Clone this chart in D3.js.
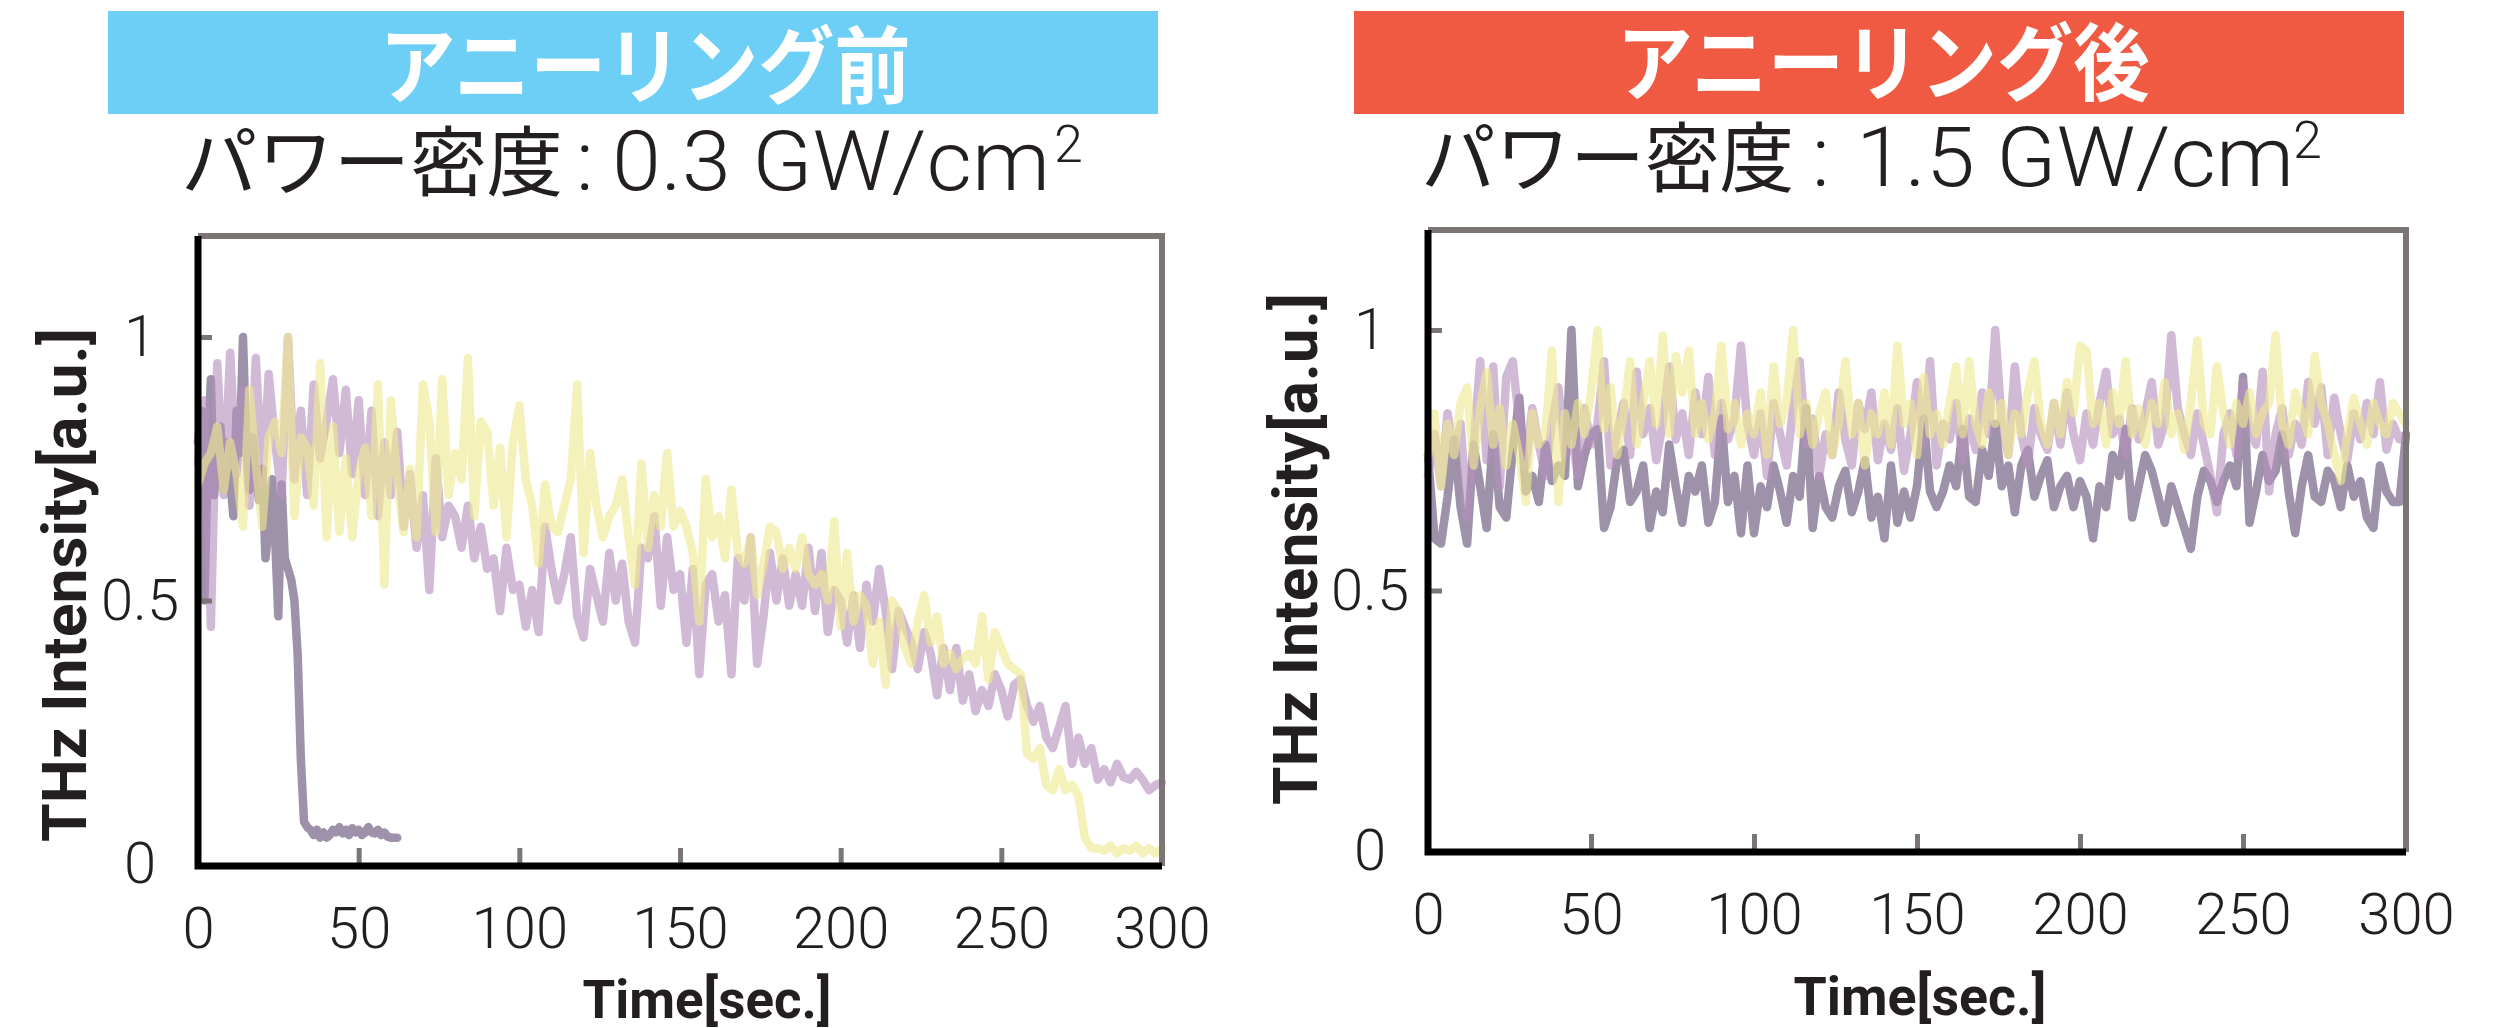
<!DOCTYPE html>
<html>
<head>
<meta charset="utf-8">
<script src="https://cdn.jsdelivr.net/npm/d3@7"></script>
<style>
  html, body { margin: 0; padding: 0; background: #fff; }
  svg { display: block; }
</style>
</head>
<body>
<svg id="chart" width="2519" height="1028"></svg>
<script>
// sampling of the traces (seconds)
var STEP = 2;
var DARK_BEFORE_STEP = 1;

var timeTicks = [0, 50, 100, 150, 200, 250, 300];
var intensityTicks = [0, 0.5, 1];

var bannerTitles = ["アニーリング前", "アニーリング後"];
var powerLabels = ["0.3 GW/cm", "1.5 GW/cm"];

// before annealing, 0.3 GW/cm2
var darkBefore = [
  .80,.86,.50,.76,.92,.70,.79,.83,.71,.80,
  .73,.66,.86,.78,1.0,.80,.71,.81,.74,.69,
  .75,.58,.64,.73,.62,.47,.72,.58,.56,.54,
  .50,.40,.20,.08,.07,.065,.055,.065,.05,.06,
  .05,.055,.065,.06,.07,.058,.065,.055,.068,.06,
  .065,.055,.06,.07,.06,.058,.065,.055,.06,.052,
  .05,.05,.05
];
var purpleBefore = [
  .76,.88,.45,.95,.70,.97,.74,.90,.68,.96,
  .72,.93,.80,.70,1.0,.73,.86,.70,.91,.77,
  .84,.92,.78,.90,.74,.88,.70,.86,.66,.80,
  .70,.82,.64,.74,.60,.70,.52,.77,.62,.68,
  .66,.60,.68,.58,.64,.56,.58,.48,.60,.52,
  .53,.45,.52,.44,.64,.56,.50,.55,.62,.47,
  .43,.56,.51,.46,.59,.50,.57,.46,.42,.60,
  .58,.66,.49,.62,.52,.55,.42,.56,.36,.53,
  .55,.46,.51,.36,.58,.50,.62,.38,.47,.59,
  .50,.58,.49,.55,.49,.60,.48,.59,.44,.52,
  .50,.42,.51,.41,.53,.46,.56,.48,.37,.48,
  .45,.42,.37,.44,.40,.32,.41,.33,.41,.31,
  .36,.29,.33,.30,.36,.33,.28,.34,.35,.30,
  .27,.30,.24,.22,.26,.30,.19,.24,.19,.22,
  .16,.18,.155,.19,.165,.16,.175,.16,.14,.15,.155
];
var yellowBefore = [
  .72,.76,.78,.83,.71,.80,.74,.64,.90,.76,
  .64,.81,.84,.78,1.0,.66,.81,.79,.68,.95,
  .62,.83,.63,.77,.62,.74,.79,.66,.91,.53,
  .88,.73,.63,.75,.62,.91,.84,.63,.92,.70,
  .78,.73,.96,.66,.84,.82,.68,.79,.62,.80,
  .87,.73,.68,.57,.72,.64,.63,.68,.73,.91,
  .59,.78,.68,.62,.66,.68,.73,.62,.53,.76,
  .60,.70,.64,.78,.64,.67,.64,.59,.46,.73,
  .62,.66,.58,.71,.59,.57,.62,.51,.57,.64,
  .63,.56,.60,.56,.62,.55,.53,.55,.50,.65,
  .45,.59,.46,.51,.49,.38,.46,.34,.50,.48,
  .41,.38,.46,.51,.42,.47,.38,.40,.37,.39,
  .40,.38,.47,.35,.44,.41,.38,.37,.36,.21,
  .20,.22,.15,.14,.18,.14,.15,.13,.05,.03,
  .03,.025,.035,.02,.03,.025,.035,.02,.03,.02,.03
];

// after annealing, 1.5 GW/cm2
var darkAfter = [
  .76,.60,.59,.68,.79,.66,.59,.78,.70,.62,
  .80,.66,.64,.77,.87,.69,.72,.67,.78,.71,
  .74,.72,1.0,.70,.76,.80,.81,.62,.66,.75,
  .77,.67,.69,.74,.62,.69,.65,.78,.70,.63,
  .72,.69,.74,.63,.67,.83,.67,.72,.61,.74,
  .61,.70,.66,.74,.69,.63,.72,.68,.85,.62,
  .72,.66,.64,.70,.73,.65,.69,.75,.64,.68,
  .60,.74,.63,.69,.64,.70,.83,.69,.66,.69,
  .74,.70,.81,.68,.67,.77,.72,.82,.70,.74,
  .65,.74,.77,.68,.72,.75,.66,.70,.72,.66,
  .71,.68,.60,.70,.66,.76,.72,.81,.64,.70,
  .76,.73,.68,.63,.70,.66,.62,.58,.68,.73,
  .71,.67,.71,.74,.70,.91,.63,.69,.76,.71,
  .73,.80,.69,.61,.70,.76,.68,.67,.73,.71,
  .66,.74,.68,.71,.64,.62,.74,.69,.67,.67,.80
];
var purpleAfter = [
  .72,.80,.70,.84,.76,.82,.64,.78,.94,.75,
  .93,.70,.91,.94,.82,.74,.85,.78,.72,.82,
  .89,.76,.80,.72,.85,.78,.82,.94,.74,.80,
  .86,.76,.92,.80,.85,.75,.82,.93,.79,.84,
  .76,.88,.80,.91,.76,.86,.79,.83,.97,.82,
  .76,.84,.72,.86,.80,.74,.85,.94,.78,.83,
  .72,.80,.76,.88,.79,.74,.86,.81,.88,.75,
  .82,.77,.85,.73,.80,.90,.78,.94,.74,.82,
  .79,.86,.75,.83,.77,.88,.80,1.0,.82,.76,
  .93,.80,.74,.85,.80,.77,.86,.78,.88,.80,
  .75,.84,.78,.86,.92,.80,.83,.76,.85,.79,
  .84,.90,.78,.82,.99,.85,.80,.76,.84,.78,
  .72,.65,.80,.84,.76,.90,.81,.78,.92,.69,
  .80,.85,.76,.82,.78,.90,.82,.89,.76,.87,
  .80,.75,.84,.79,.86,.80,.90,.77,.82,.79,.80
];
var yellowAfter = [
  .76,.84,.70,.82,.76,.86,.89,.74,.85,.92,
  .78,.85,.74,.82,.76,.67,.84,.78,.80,.96,
  .67,.84,.78,.86,.80,.88,1.0,.81,.89,.76,
  .84,.94,.78,.86,.94,.82,.99,.80,.95,.88,
  .96,.80,.86,.79,.84,.97,.81,.86,.78,.84,
  .80,.88,.76,.93,.82,.86,1.0,.80,.86,.78,
  .84,.88,.76,.82,.94,.80,.86,.74,.84,.80,
  .88,.78,.97,.82,.86,.76,.91,.80,.84,.78,
  .86,.93,.80,.94,.82,.78,.88,.82,.86,.76,
  .84,.80,.88,.94,.82,.78,.86,.80,.90,.84,
  .97,.96,.82,.86,.78,.88,.82,.94,.80,.85,
  .78,.86,.82,.90,.80,.84,.77,.86,.98,.82,
  .80,.93,.84,.78,.86,.82,.88,.80,.84,.86,
  .99,.82,.78,.88,.84,.80,.95,.86,.82,.76,
  .71,.80,.87,.82,.78,.86,.82,.80,.86,.84,.82
];

var DARK = { stroke: "#877a96", opacity: 0.82 };
var PURPLE = { stroke: "#b58fbd", opacity: 0.62 };
var YELLOW = { stroke: "#efe98f", opacity: 0.62 };
var TEXT_COLOR = "#231f20";
var FRAME_GRAY = "#7b7673";
var LIGHT_FONT = "'Roboto Light', 'Lato Light', Roboto, sans-serif";

function toPoints(values, step) {
  return values.map(function (v, i) { return { t: i * step, v: v }; });
}

var panels = [
  {
    banner: { x: 108, w: 1050, color: "#6dcff6", title: bannerTitles[0], cx: 645, base: 97, len: 531 },
    power: { x: 181, base: 190, jpLen: 382, colonX: 576, numX: 612, numLen: 438, label: powerLabels[0], supX: 1054, supBase: 162 },
    left: 198, right: 1162, top: 236, bottom: 866, zeroY: 864, oneY: 337,
    yTitle: { x: 86, cy: 585, len: 514 },
    xTitle: { cx: 707, base: 1018, len: 249 },
    series: [
      { points: toPoints(darkBefore, DARK_BEFORE_STEP), style: DARK },
      { points: toPoints(purpleBefore, STEP), style: PURPLE },
      { points: toPoints(yellowBefore, STEP), style: YELLOW }
    ]
  },
  {
    banner: { x: 1354, w: 1050, color: "#f15a42", title: bannerTitles[1], cx: 1883, base: 94, len: 533 },
    power: { x: 1421, base: 186, jpLen: 373, colonX: 1812, numX: 1856, numLen: 438, label: powerLabels[1], supX: 2293, supBase: 158 },
    left: 1428, right: 2406, top: 230, bottom: 852, zeroY: 851, oneY: 330,
    yTitle: { x: 1317, cy: 549, len: 512 },
    xTitle: { cx: 1920, base: 1015, len: 253 },
    series: [
      { points: toPoints(darkAfter, STEP), style: DARK },
      { points: toPoints(purpleAfter, STEP), style: PURPLE },
      { points: toPoints(yellowAfter, STEP), style: YELLOW }
    ]
  }
];

var svg = d3.select("#chart");

function drawPanel(p) {
  var g = svg.append("g");
  var x = d3.scaleLinear().domain([0, 300]).range([p.left, p.right]);
  var y = d3.scaleLinear().domain([0, 1]).range([p.zeroY, p.oneY]);

  // title banner
  g.append("rect")
    .attr("x", p.banner.x).attr("y", 11)
    .attr("width", p.banner.w).attr("height", 103)
    .attr("fill", p.banner.color);
  g.append("text")
    .attr("x", p.banner.cx).attr("y", p.banner.base)
    .attr("text-anchor", "middle")
    .attr("textLength", p.banner.len).attr("lengthAdjust", "spacingAndGlyphs")
    .style("font-family", "'Noto Sans CJK JP'").style("font-weight", 700)
    .style("font-size", "84px").attr("fill", "#fff")
    .text(p.banner.title);

  // power density line
  var pw = g.append("g").attr("fill", TEXT_COLOR);
  pw.append("text")
    .attr("x", p.power.x).attr("y", p.power.base)
    .attr("textLength", p.power.jpLen).attr("lengthAdjust", "spacingAndGlyphs")
    .style("font-family", "'Noto Sans CJK JP'").style("font-weight", 400)
    .style("font-size", "76px")
    .text("パワー密度");
  pw.append("text")
    .attr("x", p.power.colonX).attr("y", p.power.base)
    .style("font-family", LIGHT_FONT).style("font-weight", 300)
    .style("font-size", "84px")
    .text(":");
  pw.append("text")
    .attr("x", p.power.numX).attr("y", p.power.base)
    .attr("textLength", p.power.numLen).attr("lengthAdjust", "spacingAndGlyphs")
    .style("font-family", LIGHT_FONT).style("font-weight", 300)
    .style("font-size", "84px")
    .text(p.power.label);
  pw.append("text")
    .attr("x", p.power.supX).attr("y", p.power.supBase)
    .style("font-family", LIGHT_FONT).style("font-weight", 300)
    .style("font-size", "52px")
    .text("2");

  // traces
  var line = d3.line()
    .x(function (d) { return x(d.t); })
    .y(function (d) { return y(d.v); });
  p.series.forEach(function (s) {
    g.append("path")
      .datum(s.points)
      .attr("d", line)
      .attr("fill", "none")
      .attr("stroke", s.style.stroke)
      .attr("stroke-opacity", s.style.opacity)
      .attr("stroke-width", 8.5)
      .attr("stroke-linejoin", "round")
      .attr("stroke-linecap", "round");
  });

  // frame: gray top/right, black left/bottom
  g.append("path")
    .attr("d", "M" + p.left + "," + p.top + "H" + p.right + "V" + p.bottom)
    .attr("fill", "none").attr("stroke", FRAME_GRAY).attr("stroke-width", 6);

  var xAxis = d3.axisBottom(x).tickValues(timeTicks)
    .tickSizeInner(-18).tickSizeOuter(0).tickPadding(41);
  var gx = g.append("g")
    .attr("transform", "translate(0," + p.bottom + ")")
    .call(xAxis);
  gx.select(".domain").remove();
  gx.selectAll(".tick line")
    .attr("stroke", FRAME_GRAY).attr("stroke-width", 5)
    .filter(function (d) { return d === 0 || d === 300; }).remove();
  gx.selectAll(".tick text")
    .attr("fill", TEXT_COLOR)
    .style("font-family", LIGHT_FONT).style("font-weight", 300)
    .style("font-size", "58px");

  var yAxis = d3.axisLeft(y).tickValues(intensityTicks)
    .tickSizeInner(-14).tickSizeOuter(0).tickPadding(58)
    .tickFormat(d3.format("~g"));
  var gy = g.append("g")
    .attr("transform", "translate(" + p.left + ",0)")
    .call(yAxis);
  gy.select(".domain").remove();
  gy.selectAll(".tick line")
    .attr("stroke", FRAME_GRAY).attr("stroke-width", 5)
    .filter(function (d) { return d === 0; }).remove();
  gy.selectAll(".tick text")
    .attr("fill", TEXT_COLOR)
    .attr("text-anchor", "middle")
    .style("font-family", LIGHT_FONT).style("font-weight", 300)
    .style("font-size", "58px");

  g.append("path")
    .attr("d", "M" + p.left + "," + p.top + "V" + p.bottom + "H" + p.right)
    .attr("fill", "none").attr("stroke", "#000").attr("stroke-width", 7)
    .attr("stroke-linejoin", "miter");

  // axis titles
  g.append("text")
    .attr("transform", "translate(" + p.yTitle.x + "," + p.yTitle.cy + ") rotate(-90)")
    .attr("text-anchor", "middle")
    .attr("textLength", p.yTitle.len).attr("lengthAdjust", "spacingAndGlyphs")
    .style("font-family", "Roboto").style("font-weight", 700)
    .style("font-size", "62px").attr("fill", TEXT_COLOR)
    .text("THz Intensity[a.u.]");
  g.append("text")
    .attr("x", p.xTitle.cx).attr("y", p.xTitle.base)
    .attr("text-anchor", "middle")
    .attr("textLength", p.xTitle.len).attr("lengthAdjust", "spacingAndGlyphs")
    .style("font-family", "Roboto").style("font-weight", 700)
    .style("font-size", "54px").attr("fill", TEXT_COLOR)
    .text("Time[sec.]");
}

panels.forEach(drawPanel);
</script>
</body>
</html>
